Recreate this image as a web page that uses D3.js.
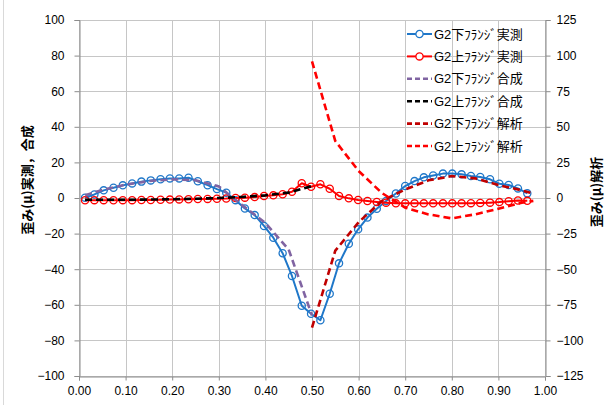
<!DOCTYPE html>
<html>
<head>
<meta charset="utf-8">
<script src="https://cdn.jsdelivr.net/npm/d3@7"></script>
<style>
  body { margin: 0; background: #fff; }
  text { font-family: "Liberation Sans", "Noto Sans CJK JP", sans-serif; }
</style>
</head>
<body>
<div class="graph"></div>
<script>
// 実測データ (x位置)
const xMeas = [0.013, 0.033, 0.053, 0.074, 0.094, 0.114, 0.134, 0.154, 0.175, 0.195,
  0.215, 0.235, 0.255, 0.276, 0.296, 0.316, 0.336, 0.356, 0.377, 0.397,
  0.417, 0.437, 0.457, 0.478, 0.498, 0.518, 0.538, 0.558, 0.579, 0.599,
  0.619, 0.639, 0.659, 0.680, 0.700, 0.720, 0.740, 0.760, 0.781, 0.801,
  0.821, 0.841, 0.861, 0.882, 0.902, 0.922, 0.942, 0.962]
const lowerMeas = [0.2, 2, 4.3, 5.8, 7.1, 8.2, 9.2, 9.9, 10.5, 11,
  11, 11.4, 9.4, 7.2, 5, 3, -1.2, -5.9, -9.6, -15.7,
  -22.3, -31, -43.8, -60.5, -65, -68.7, -53.8, -36.7, -25.7, -17.6,
  -11, -6, -1.7, 2.5, 6.7, 9.5, 11.6, 12.6, 13.7, 13.7,
  13.3, 12.4, 11.8, 10.5, 8, 7.3, 5.4, 2.6]
const upperMeas = [-1.3, -1.2, -1.2, -1.3, -1.2, -1.2, -1.1, -1.1, -1, -0.9,
  -0.8, -0.7, -0.6, -0.5, -0.4, -0.3, 0, 0.2, 0.5, 1.1,
  1.5, 2.1, 3.5, 8.3, 6.3, 7.7, 5.2, 1.1, -0.2, -1.1,
  -1.7, -2.2, -2.6, -3, -3, -3, -3, -3, -3, -3,
  -3, -2.9, -2.8, -2.6, -2.3, -1.8, -1.4, -1.6]
// 合成
const xSynth = [0.013, 0.05, 0.10, 0.15, 0.20, 0.25, 0.30, 0.35, 0.40, 0.45, 0.50]
const lowerSynth = [1.5, 4.5, 7.5, 9.5, 10.5, 10, 6.5, -4, -14, -29, -66]
const upperSynth = [-1, -1, -1, -0.9, -0.7, -0.4, 0, 0.6, 1.5, 3, 6.7]
// 解析 (右軸)
const xAnal = [0.50, 0.55, 0.60, 0.65, 0.70, 0.75, 0.80, 0.85, 0.90, 0.95, 0.975]
const lowerAnal = [-91, -37, -17, -2, 6, 12.4, 15.4, 13.8, 9.1, 5.4, 3]
const upperAnal = [96, 40, 19, 3.5, -6.8, -11.5, -14.3, -11.5, -7.5, -3.3, -2]

const xTicks = [0, 0.1, 0.2, 0.3, 0.4, 0.5, 0.6, 0.7, 0.8, 0.9, 1.0]
const yLeftTicks = [-100, -80, -60, -40, -20, 0, 20, 40, 60, 80, 100]
const yRightTicks = [-125, -100, -75, -50, -25, 0, 25, 50, 75, 100, 125]
const legendLabels = ['G2下ﾌﾗﾝｼﾞ実測', 'G2上ﾌﾗﾝｼﾞ実測', 'G2下ﾌﾗﾝｼﾞ合成',
  'G2上ﾌﾗﾝｼﾞ合成', 'G2下ﾌﾗﾝｼﾞ解析', 'G2上ﾌﾗﾝｼﾞ解析']

const W = 612, H = 405
const plot = { left: 79, right: 545, top: 20, bottom: 376 }

const svg = d3.select('.graph').append('svg')
  .attr('width', W).attr('height', H)

const x = d3.scaleLinear().domain([0, 1]).range([plot.left, plot.right])
const yL = d3.scaleLinear().domain([-100, 100]).range([plot.bottom, plot.top])
const yR = d3.scaleLinear().domain([-125, 125]).range([plot.bottom, plot.top])

// 外枠
svg.append('line').attr('x1', 3.5).attr('x2', 3.5).attr('y1', 0).attr('y2', H)
  .attr('stroke', '#d9d9d9')

// グリッド
const grid = svg.append('g')
grid.selectAll('.hg').data(yLeftTicks).enter().append('line')
  .attr('x1', plot.left).attr('x2', plot.right)
  .attr('y1', d => Math.round(yL(d)) + 0.5).attr('y2', d => Math.round(yL(d)) + 0.5)
  .attr('stroke', '#c6c6c6')
grid.selectAll('.vg').data(xTicks).enter().append('line')
  .attr('y1', plot.top).attr('y2', plot.bottom)
  .attr('x1', d => Math.round(x(d)) + 0.5).attr('x2', d => Math.round(x(d)) + 0.5)
  .attr('stroke', '#c6c6c6')

// 軸
const axisStyle = g => {
  g.select('.domain').attr('stroke', '#8c8c8c')
  g.selectAll('.tick line').attr('stroke', '#8c8c8c')
  g.selectAll('.tick text').attr('fill', '#000').style('font-size', '12px')
    .style('font-family', '"Liberation Sans", sans-serif')
}
svg.append('g').attr('transform', `translate(0,${plot.bottom + 0.5})`)
  .call(d3.axisBottom(x).tickValues(xTicks).tickFormat(d3.format('.2f')).tickSize(4).tickPadding(6))
  .call(axisStyle)
svg.append('g').attr('transform', `translate(${plot.left + 0.5},0)`)
  .call(d3.axisLeft(yL).tickValues(yLeftTicks).tickSize(5).tickPadding(10))
  .call(axisStyle)
svg.append('g').attr('transform', `translate(${plot.right + 0.5},0)`)
  .call(d3.axisRight(yR).tickValues(yRightTicks).tickSize(5).tickPadding(6))
  .call(axisStyle)

// 系列
const series = [
  { xs: xMeas, ys: lowerMeas, y: yL, color: '#1F77C9', dash: null, marker: true, w: 2 },
  { xs: xMeas, ys: upperMeas, y: yL, color: '#FF0000', dash: null, marker: true, w: 2 },
  { xs: xSynth, ys: lowerSynth, y: yL, color: '#8064A2', dash: '7,4', marker: false, w: 2.6 },
  { xs: xSynth, ys: upperSynth, y: yL, color: '#000000', dash: '7,4', marker: false, w: 2.6 },
  { xs: xAnal, ys: lowerAnal, y: yR, color: '#C00000', dash: '7,4', marker: false, w: 2.6 },
  { xs: xAnal, ys: upperAnal, y: yR, color: '#FF0000', dash: '7,4', marker: false, w: 2.6 },
]

series.forEach(s => {
  const pts = s.xs.map((v, i) => [v, s.ys[i]])
  const line = d3.line().x(d => x(d[0])).y(d => s.y(d[1]))
  svg.append('path').datum(pts)
    .attr('d', line)
    .attr('fill', 'none')
    .attr('stroke', s.color)
    .attr('stroke-width', s.w)
    .attr('stroke-dasharray', s.dash)
    .attr('stroke-linejoin', 'round')
  if (s.marker) {
    svg.append('g').selectAll('circle').data(pts).enter().append('circle')
      .attr('cx', d => x(d[0])).attr('cy', d => s.y(d[1]))
      .attr('r', 3.6)
      .attr('fill', 'none')
      .attr('stroke', s.color)
      .attr('stroke-width', 1.3)
  }
})

// 凡例
const legend = svg.append('g').selectAll('g').data(series).enter().append('g')
  .attr('transform', (d, i) => `translate(407,${34 + i * 22.4})`)
legend.append('line')
  .attr('x1', 0).attr('x2', 25).attr('y1', 0).attr('y2', 0)
  .attr('stroke', d => d.color)
  .attr('stroke-width', d => d.w)
  .attr('stroke-dasharray', d => d.dash ? '5,3' : null)
legend.filter(d => d.marker).append('circle')
  .attr('cx', 12.5).attr('cy', 0).attr('r', 3.6)
  .attr('fill', '#fff').attr('stroke', d => d.color).attr('stroke-width', 1.3)
legend.append('text')
  .attr('x', 27).attr('y', 0).attr('dy', '0.36em')
  .style('font-size', '13px')
  .style('font-family', '"Liberation Sans", "Noto Sans CJK JP", sans-serif')
  .text((d, i) => legendLabels[i])

// 軸タイトル
svg.append('text')
  .attr('transform', 'translate(27,180) rotate(-90)')
  .attr('text-anchor', 'middle').attr('dy', '0.36em')
  .style('font-size', '13px').style('font-weight', 'bold')
  .style('font-family', '"Noto Sans CJK JP", sans-serif')
  .text('歪み(μ)実測，合成')
svg.append('text')
  .attr('transform', 'translate(596,192) rotate(-90)')
  .attr('text-anchor', 'middle').attr('dy', '0.36em')
  .style('font-size', '13px').style('font-weight', 'bold')
  .style('font-family', '"Noto Sans CJK JP", sans-serif')
  .text('歪み(μ)解析')
</script>
</body>
</html>
